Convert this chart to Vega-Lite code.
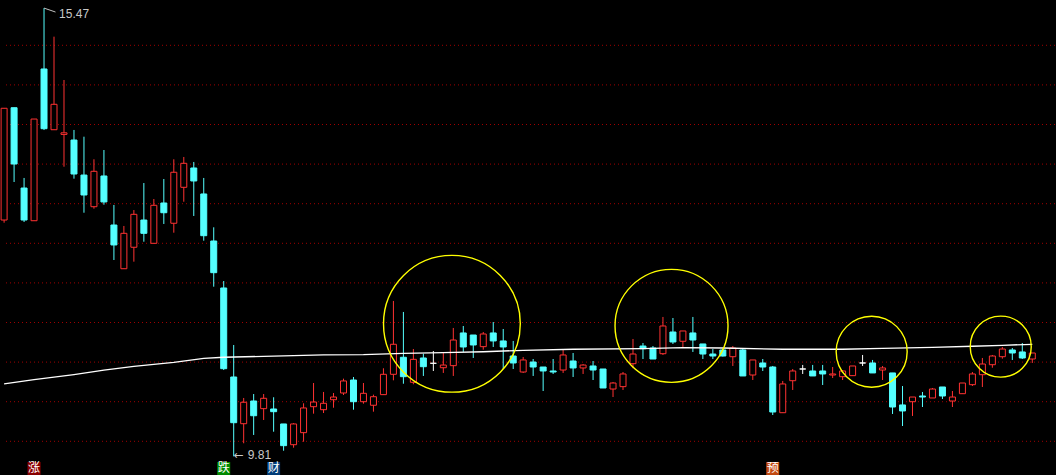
{
  "$schema": "https://vega.github.io/schema/vega-lite/v6.json",
  "width": 1056,
  "height": 475,
  "autosize": {"type": "fit", "contains": "padding"},
  "padding": 0,
  "background": "#000000",
  "config": {"view": {"stroke": null}, "scale": {"continuousPadding": 0}},
  "datasets": {
    "candles": [
      {"i":0,"o":12.794,"h":14.205,"l":12.760,"c":14.205},
      {"i":1,"o":14.212,"h":14.212,"l":13.274,"c":13.501},
      {"i":2,"o":13.198,"h":13.325,"l":12.769,"c":12.794},
      {"i":3,"o":12.785,"h":14.069,"l":12.785,"c":14.069},
      {"i":4,"o":14.701,"h":15.47,"l":13.930,"c":13.947},
      {"i":5,"o":13.934,"h":15.109,"l":13.934,"c":14.255},
      {"i":6,"o":13.875,"h":14.562,"l":13.467,"c":13.895},
      {"i":7,"o":13.804,"h":13.931,"l":13.316,"c":13.375},
      {"i":8,"o":13.362,"h":13.846,"l":12.886,"c":13.110},
      {"i":9,"o":12.962,"h":13.561,"l":12.937,"c":13.409},
      {"i":10,"o":13.350,"h":13.678,"l":12.987,"c":13.022},
      {"i":11,"o":12.731,"h":12.984,"l":12.289,"c":12.479},
      {"i":12,"o":12.179,"h":12.719,"l":12.179,"c":12.626},
      {"i":13,"o":12.450,"h":12.920,"l":12.268,"c":12.866},
      {"i":14,"o":12.794,"h":13.261,"l":12.520,"c":12.626},
      {"i":15,"o":12.500,"h":13.059,"l":12.500,"c":12.980},
      {"i":16,"o":13.009,"h":13.312,"l":12.744,"c":12.886},
      {"i":17,"o":12.753,"h":13.561,"l":12.634,"c":13.397},
      {"i":18,"o":13.207,"h":13.590,"l":13.025,"c":13.510},
      {"i":19,"o":13.451,"h":13.527,"l":12.845,"c":13.287},
      {"i":20,"o":13.123,"h":13.325,"l":12.533,"c":12.596},
      {"i":21,"o":12.529,"h":12.702,"l":11.952,"c":12.129},
      {"i":22,"o":11.936,"h":12.024,"l":10.900,"c":10.917},
      {"i":23,"o":10.812,"h":11.216,"l":9.810,"c":10.235},
      {"i":24,"o":10.222,"h":10.547,"l":9.975,"c":10.493},
      {"i":25,"o":10.509,"h":10.597,"l":10.080,"c":10.323},
      {"i":26,"o":10.412,"h":10.597,"l":10.269,"c":10.543},
      {"i":27,"o":10.408,"h":10.556,"l":10.121,"c":10.374},
      {"i":28,"o":10.219,"h":10.219,"l":9.881,"c":9.945},
      {"i":29,"o":9.957,"h":10.230,"l":9.919,"c":10.219},
      {"i":30,"o":10.109,"h":10.480,"l":9.995,"c":10.421},
      {"i":31,"o":10.437,"h":10.736,"l":10.349,"c":10.496},
      {"i":32,"o":10.399,"h":10.623,"l":10.357,"c":10.480},
      {"i":33,"o":10.525,"h":10.610,"l":10.424,"c":10.559},
      {"i":34,"o":10.610,"h":10.791,"l":10.585,"c":10.762},
      {"i":35,"o":10.774,"h":10.812,"l":10.399,"c":10.500},
      {"i":36,"o":10.500,"h":10.736,"l":10.475,"c":10.606},
      {"i":37,"o":10.455,"h":10.589,"l":10.374,"c":10.563},
      {"i":38,"o":10.589,"h":10.922,"l":10.589,"c":10.846},
      {"i":39,"o":10.846,"h":11.772,"l":10.770,"c":11.225},
      {"i":40,"o":11.061,"h":11.633,"l":10.727,"c":10.816},
      {"i":41,"o":10.745,"h":11.165,"l":10.720,"c":11.035},
      {"i":42,"o":11.052,"h":11.106,"l":10.825,"c":10.942},
      {"i":43,"o":10.985,"h":11.140,"l":10.888,"c":10.985},
      {"i":44,"o":10.929,"h":11.119,"l":10.863,"c":10.963},
      {"i":45,"o":10.955,"h":11.431,"l":10.825,"c":11.279},
      {"i":46,"o":11.368,"h":11.456,"l":11.128,"c":11.191},
      {"i":47,"o":11.342,"h":11.342,"l":11.052,"c":11.216},
      {"i":48,"o":11.195,"h":11.380,"l":11.157,"c":11.355},
      {"i":49,"o":11.368,"h":11.506,"l":11.191,"c":11.267},
      {"i":50,"o":11.267,"h":11.418,"l":10.913,"c":11.191},
      {"i":51,"o":11.077,"h":11.267,"l":10.913,"c":10.989},
      {"i":52,"o":10.875,"h":11.064,"l":10.863,"c":11.027},
      {"i":53,"o":11.001,"h":11.039,"l":10.825,"c":10.938},
      {"i":54,"o":10.938,"h":10.938,"l":10.635,"c":10.888},
      {"i":55,"o":10.888,"h":11.039,"l":10.850,"c":10.875},
      {"i":56,"o":10.900,"h":11.153,"l":10.863,"c":11.090},
      {"i":57,"o":11.014,"h":11.115,"l":10.812,"c":10.926},
      {"i":58,"o":10.926,"h":10.976,"l":10.850,"c":10.963},
      {"i":59,"o":10.951,"h":11.014,"l":10.774,"c":10.900},
      {"i":60,"o":10.913,"h":10.913,"l":10.673,"c":10.673},
      {"i":61,"o":10.660,"h":10.749,"l":10.559,"c":10.736},
      {"i":62,"o":10.690,"h":10.875,"l":10.648,"c":10.850},
      {"i":63,"o":10.980,"h":11.292,"l":10.922,"c":11.102},
      {"i":64,"o":11.203,"h":11.241,"l":11.039,"c":11.169},
      {"i":65,"o":11.178,"h":11.203,"l":11.039,"c":11.039},
      {"i":66,"o":11.106,"h":11.570,"l":11.090,"c":11.456},
      {"i":67,"o":11.380,"h":11.557,"l":11.229,"c":11.254},
      {"i":68,"o":11.263,"h":11.393,"l":11.187,"c":11.393},
      {"i":69,"o":11.368,"h":11.570,"l":11.128,"c":11.279},
      {"i":70,"o":11.229,"h":11.229,"l":11.039,"c":11.102},
      {"i":71,"o":11.102,"h":11.165,"l":11.039,"c":11.077},
      {"i":72,"o":11.153,"h":11.165,"l":11.070,"c":11.077},
      {"i":73,"o":11.068,"h":11.203,"l":10.951,"c":11.178},
      {"i":74,"o":11.153,"h":11.165,"l":10.825,"c":10.825},
      {"i":75,"o":10.837,"h":11.027,"l":10.774,"c":11.027},
      {"i":76,"o":10.989,"h":11.039,"l":10.888,"c":10.938},
      {"i":77,"o":10.938,"h":10.951,"l":10.332,"c":10.370},
      {"i":78,"o":10.361,"h":10.762,"l":10.361,"c":10.724},
      {"i":79,"o":10.765,"h":10.913,"l":10.648,"c":10.888},
      {"i":80,"o":10.913,"h":10.964,"l":10.850,"c":10.913},
      {"i":81,"o":10.888,"h":10.964,"l":10.825,"c":10.825},
      {"i":82,"o":10.888,"h":10.964,"l":10.711,"c":10.850},
      {"i":83,"o":10.837,"h":10.938,"l":10.799,"c":10.850},
      {"i":84,"o":10.816,"h":10.900,"l":10.774,"c":10.888},
      {"i":85,"o":10.829,"h":10.951,"l":10.829,"c":10.951},
      {"i":86,"o":10.989,"h":11.090,"l":10.951,"c":10.989},
      {"i":87,"o":10.989,"h":11.027,"l":10.863,"c":10.863},
      {"i":88,"o":10.900,"h":10.951,"l":10.774,"c":10.926},
      {"i":89,"o":10.863,"h":10.863,"l":10.345,"c":10.433},
      {"i":90,"o":10.459,"h":10.698,"l":10.193,"c":10.383},
      {"i":91,"o":10.500,"h":10.559,"l":10.320,"c":10.559},
      {"i":92,"o":10.572,"h":10.623,"l":10.433,"c":10.559},
      {"i":93,"o":10.547,"h":10.673,"l":10.547,"c":10.660},
      {"i":94,"o":10.686,"h":10.686,"l":10.534,"c":10.572},
      {"i":95,"o":10.509,"h":10.635,"l":10.433,"c":10.559},
      {"i":96,"o":10.601,"h":10.736,"l":10.601,"c":10.736},
      {"i":97,"o":10.715,"h":10.875,"l":10.698,"c":10.850},
      {"i":98,"o":10.841,"h":11.052,"l":10.686,"c":10.976},
      {"i":99,"o":10.967,"h":11.090,"l":10.929,"c":11.077},
      {"i":100,"o":11.068,"h":11.191,"l":11.043,"c":11.165},
      {"i":101,"o":11.153,"h":11.178,"l":11.027,"c":11.115},
      {"i":102,"o":11.128,"h":11.241,"l":11.039,"c":11.052},
      {"i":103,"o":11.039,"h":11.115,"l":10.989,"c":11.115}
    ],
    "ma": [
      {"i":0,"m":10.724},{"i":3,"m":10.778},{"i":7,"m":10.843},{"i":10,"m":10.900},
      {"i":13,"m":10.947},{"i":17,"m":10.997},{"i":20,"m":11.048},{"i":22,"m":11.061},
      {"i":26,"m":11.073},{"i":32,"m":11.090},{"i":36,"m":11.094},{"i":40,"m":11.111},
      {"i":44,"m":11.119},{"i":48,"m":11.131},{"i":52,"m":11.149},{"i":57,"m":11.162},
      {"i":64,"m":11.169},{"i":68,"m":11.182},{"i":72,"m":11.178},{"i":78,"m":11.162},
      {"i":84,"m":11.162},{"i":88,"m":11.174},{"i":93,"m":11.187},{"i":97,"m":11.200},
      {"i":100,"m":11.212},{"i":103,"m":11.225}
    ],
    "grid": [
      {"g":10.0},{"g":10.5},{"g":11.0},{"g":11.5},{"g":12.0},{"g":12.5},
      {"g":13.0},{"g":13.5},{"g":14.0},{"g":14.5},{"g":15.0}
    ],
    "rings": [
      {"n":"a","i":44.86,"p":11.484},
      {"n":"b","i":66.86,"p":11.458},
      {"n":"c","i":86.91,"p":11.131},
      {"n":"d","i":99.84,"p":11.195}
    ],
    "tags": [
      {"i":3,"t":"涨"},
      {"i":22,"t":"跌"},
      {"i":27,"t":"财"},
      {"i":77,"t":"预"}
    ]
  },
  "layer": [
    {
      "data": {"name": "grid"},
      "mark": {"type": "rule", "stroke": "#a00000", "strokeWidth": 1, "strokeDash": [1, 3]},
      "encoding": {
        "y": {"field": "g", "type": "quantitative", "axis": null,
              "scale": {"domain": [9.5745, 15.572], "nice": false, "zero": false, "padding": 0}}
      }
    },
    {
      "data": {"name": "candles"},
      "mark": {"type": "rule", "strokeWidth": 1},
      "encoding": {
        "x": {"field": "i", "type": "quantitative", "axis": null,
              "scale": {"domain": [-0.01, 105.275], "nice": false, "zero": false, "padding": 0}},
        "y": {"field": "l", "type": "quantitative", "axis": null,
              "scale": {"domain": [9.5745, 15.572], "nice": false, "zero": false, "padding": 0}},
        "y2": {"field": "h"},
        "stroke": {
          "condition": [
            {"test": "datum.c > datum.o", "value": "#ff3232"},
            {"test": "datum.c < datum.o", "value": "#54ffff"}
          ],
          "value": "#ffffff"
        }
      }
    },
    {
      "data": {"name": "candles"},
      "mark": {"type": "bar", "size": 6, "strokeWidth": 1},
      "encoding": {
        "x": {"field": "i", "type": "quantitative", "axis": null,
              "scale": {"domain": [-0.01, 105.275], "nice": false, "zero": false, "padding": 0}},
        "y": {"field": "o", "type": "quantitative", "axis": null,
              "scale": {"domain": [9.5745, 15.572], "nice": false, "zero": false, "padding": 0}},
        "y2": {"field": "c"},
        "fill": {
          "condition": [
            {"test": "datum.c > datum.o", "value": "#000000"},
            {"test": "datum.c < datum.o", "value": "#54ffff"}
          ],
          "value": "#ffffff"
        },
        "stroke": {
          "condition": [
            {"test": "datum.c > datum.o", "value": "#ff3232"},
            {"test": "datum.c < datum.o", "value": "#54ffff"}
          ],
          "value": "#ffffff"
        }
      }
    },
    {
      "data": {"name": "ma"},
      "mark": {"type": "line", "stroke": "#ffffff", "strokeWidth": 1.3},
      "encoding": {
        "x": {"field": "i", "type": "quantitative", "axis": null,
              "scale": {"domain": [-0.01, 105.275], "nice": false, "zero": false, "padding": 0}},
        "y": {"field": "m", "type": "quantitative", "axis": null,
              "scale": {"domain": [9.5745, 15.572], "nice": false, "zero": false, "padding": 0}}
      }
    },
    {
      "data": {"name": "rings"},
      "mark": {"type": "point", "shape": "circle", "filled": false, "stroke": "#ffff00", "strokeWidth": 1.4, "opacity": 1},
      "encoding": {
        "x": {"field": "i", "type": "quantitative", "axis": null,
              "scale": {"domain": [-0.01, 105.275], "nice": false, "zero": false, "padding": 0}},
        "y": {"field": "p", "type": "quantitative", "axis": null,
              "scale": {"domain": [9.5745, 15.572], "nice": false, "zero": false, "padding": 0}},
        "size": {"field": "n", "type": "nominal", "legend": null,
                 "scale": {"type": "ordinal", "domain": ["a", "b", "c", "d"], "range": [18714, 12769, 5041, 3721]}}
      }
    },
    {
      "data": {"values": [{"i": 4, "p": 15.47}]},
      "mark": {"type": "rule", "stroke": "#c0c0c0", "strokeWidth": 1},
      "encoding": {
        "x": {"field": "i", "type": "quantitative", "axis": null,
              "scale": {"domain": [-0.01, 105.275], "nice": false, "zero": false, "padding": 0}},
        "x2": {"datum": 5.15},
        "y": {"field": "p", "type": "quantitative", "axis": null,
              "scale": {"domain": [9.5745, 15.572], "nice": false, "zero": false, "padding": 0}},
        "y2": {"datum": 15.42}
      }
    },
    {
      "data": {"values": [{"i": 4, "p": 15.47, "t": "15.47"}]},
      "mark": {"type": "text", "align": "left", "baseline": "middle", "dx": 15, "dy": 6,
               "font": "Liberation Sans", "fontSize": 12, "fill": "#c8c8c8"},
      "encoding": {
        "x": {"field": "i", "type": "quantitative", "axis": null,
              "scale": {"domain": [-0.01, 105.275], "nice": false, "zero": false, "padding": 0}},
        "y": {"field": "p", "type": "quantitative", "axis": null,
              "scale": {"domain": [9.5745, 15.572], "nice": false, "zero": false, "padding": 0}},
        "text": {"field": "t"}
      }
    },
    {
      "data": {"values": [{"i": 23, "p": 9.81, "t": "←"}]},
      "mark": {"type": "text", "align": "left", "baseline": "middle", "dx": 0, "dy": -1,
               "font": "DejaVu Sans", "fontSize": 12, "fill": "#c8c8c8"},
      "encoding": {
        "x": {"field": "i", "type": "quantitative", "axis": null,
              "scale": {"domain": [-0.01, 105.275], "nice": false, "zero": false, "padding": 0}},
        "y": {"field": "p", "type": "quantitative", "axis": null,
              "scale": {"domain": [9.5745, 15.572], "nice": false, "zero": false, "padding": 0}},
        "text": {"field": "t"}
      }
    },
    {
      "data": {"values": [{"i": 23, "p": 9.81, "t": "9.81"}]},
      "mark": {"type": "text", "align": "left", "baseline": "middle", "dx": 14, "dy": -1,
               "font": "Liberation Sans", "fontSize": 12, "fill": "#c8c8c8"},
      "encoding": {
        "x": {"field": "i", "type": "quantitative", "axis": null,
              "scale": {"domain": [-0.01, 105.275], "nice": false, "zero": false, "padding": 0}},
        "y": {"field": "p", "type": "quantitative", "axis": null,
              "scale": {"domain": [9.5745, 15.572], "nice": false, "zero": false, "padding": 0}},
        "text": {"field": "t"}
      }
    },
    {
      "data": {"name": "tags"},
      "mark": {"type": "point", "shape": "square", "filled": true, "size": 169, "opacity": 1},
      "encoding": {
        "x": {"field": "i", "type": "quantitative", "axis": null,
              "scale": {"domain": [-0.01, 105.275], "nice": false, "zero": false, "padding": 0}},
        "y": {"datum": 9.657, "type": "quantitative",
              "scale": {"domain": [9.5745, 15.572], "nice": false, "zero": false, "padding": 0}},
        "color": {"field": "t", "type": "nominal", "legend": null,
                  "scale": {"domain": ["涨", "跌", "财", "预"], "range": ["#8a0000", "#008a00", "#003c78", "#c44a10"]}}
      }
    },
    {
      "data": {"name": "tags"},
      "mark": {"type": "text", "align": "center", "baseline": "middle", "font": "Noto Sans CJK SC",
               "fontSize": 12, "fill": "#ffffff"},
      "encoding": {
        "x": {"field": "i", "type": "quantitative", "axis": null,
              "scale": {"domain": [-0.01, 105.275], "nice": false, "zero": false, "padding": 0}},
        "y": {"datum": 9.657, "type": "quantitative",
              "scale": {"domain": [9.5745, 15.572], "nice": false, "zero": false, "padding": 0}},
        "text": {"field": "t"}
      }
    }
  ]
}
